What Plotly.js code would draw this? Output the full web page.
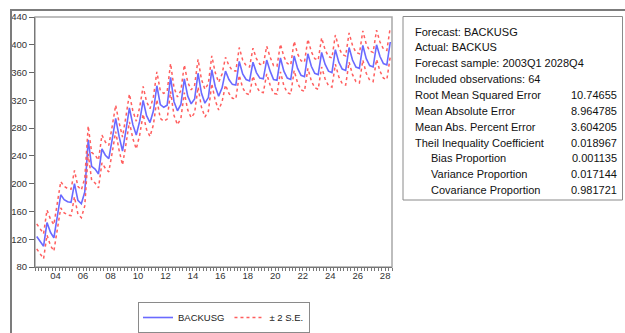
<!DOCTYPE html>
<html>
<head>
<meta charset="utf-8">
<script src="https://cdn.plot.ly/plotly-3.0.1.min.js"></script>
<style>
html,body{margin:0;padding:0;background:#fff;}
#chart{width:625px;height:333px;}
</style>
</head>
<body>
<div id="chart"></div>
<script>
// ---- data (quarterly, 2003Q1 .. 2028Q4) ----
const startYear = 2003;
const endYear = 2028;
const seriesName = "BACKUSG";
const bandName = "\u00b1 2 S.E.";
// forecast BACKUSG, one row per year: Q1, Q2, Q3, Q4
const forecast = [
  124, 116, 110, 144,   // 2003
  130, 122, 150, 184,   // 2004
  177, 174, 173, 200,   // 2005
  176, 171, 188, 263,   // 2006
  225, 221, 214, 250,   // 2007
  241, 236, 264, 294,   // 2008
  268, 247, 277, 309,   // 2009
  285, 270, 290, 320,   // 2010
  298, 288, 305, 341,   // 2011
  314, 310, 313, 353,   // 2012
  318, 305, 314, 351,   // 2013
  326, 315, 322, 359,   // 2014
  330, 316, 324, 364,   // 2015
  340, 326, 338, 362,   // 2016
  350, 343, 342, 376,   // 2017
  358, 350, 348, 375,   // 2018
  360, 352, 351, 378,   // 2019
  362, 350, 349, 381,   // 2020
  362, 352, 350, 384,   // 2021
  366, 356, 354, 387,   // 2022
  369, 359, 357, 389,   // 2023
  372, 362, 360, 393,   // 2024
  375, 365, 363, 396,   // 2025
  378, 368, 366, 399,   // 2026
  380, 370, 368, 400,   // 2027
  383, 373, 371, 404    // 2028
];
// two standard errors, read per year (2003 .. 2028)
const twoSE = [18, 19, 19, 20, 20, 19, 20, 20, 20, 20, 20, 20, 20,
               20, 20, 20, 20, 20, 21, 21, 21, 21, 21, 21, 21, 21];
const yTicks = [80, 120, 160, 200, 240, 280, 320, 360, 400, 440];
const xTickLabels = ["04", "06", "08", "10", "12", "14", "16", "18", "20", "22", "24", "26", "28"];
const statLabels = [
  ["Forecast: BACKUSG", ""],
  ["Actual: BACKUS", ""],
  ["Forecast sample: 2003Q1 2028Q4", ""],
  ["Included observations: 64", ""],
  ["Root Mean Squared Error", "10.74655"],
  ["Mean Absolute Error", "8.964785"],
  ["Mean Abs. Percent Error", "3.604205"],
  ["Theil Inequality Coefficient", "0.018967"],
  ["   Bias Proportion", "0.001135"],
  ["   Variance Proportion", "0.017144"],
  ["   Covariance Proportion", "0.981721"]
];

// ---- build ----
const x = [], upper = [], lower = [];
for (let i = 0; i < forecast.length; i++) {
  x.push(startYear + i / 4);
  const s = twoSE[Math.floor(i / 4)];
  upper.push(forecast[i] + s);
  lower.push(forecast[i] - s);
}
// year labels centred in each labelled year (between Q2 and Q3)
const tickVals = xTickLabels.map(t => 2000 + Number(t) + 0.375);

const blue = "#6a6aff";
const red = "#ff5e5e";
const traces = [
  {x: x, y: forecast, type: "scatter", mode: "lines", name: seriesName,
   line: {color: blue, width: 1.6}},
  {x: x, y: upper, type: "scatter", mode: "lines", name: bandName, legendgroup: "se",
   line: {color: red, width: 1.5, dash: "dot"}},
  {x: x, y: lower, type: "scatter", mode: "lines", name: bandName, legendgroup: "se",
   showlegend: false, line: {color: red, width: 1.5, dash: "dot"}}
];

// pixel -> paper helpers (plot area 35..392 x, 17..267 y)
const L = 35, R = 392, T = 17, B = 267;
const px = v => (v - L) / (R - L);
const py = v => (B - v) / (B - T);

const annotations = [];
statLabels.forEach((row, k) => {
  const yy = py(31.6 + k * 15.85);
  const indent = row[0].startsWith("   ");
  annotations.push({xref: "paper", yref: "paper", x: px(indent ? 429 : 413), y: yy,
    xanchor: "left", yanchor: "middle", showarrow: false, text: row[0].trim(),
    font: {family: "Liberation Sans, Arial, sans-serif", size: 11, color: "#111"}});
  if (row[1]) annotations.push({xref: "paper", yref: "paper", x: px(618.5), y: yy,
    xanchor: "right", yanchor: "middle", showarrow: false, text: row[1],
    font: {family: "Liberation Sans, Arial, sans-serif", size: 11, color: "#111"}});
});

const layout = {
  width: 625, height: 333,
  margin: {l: L, r: 625 - R, t: T, b: 333 - B, pad: 0, autoexpand: false},
  paper_bgcolor: "#fff", plot_bgcolor: "#fff",
  font: {family: "Liberation Sans, Arial, sans-serif", size: 9, color: "#333"},
  showlegend: true,
  legend: {orientation: "h", x: px(138), xanchor: "left", y: py(302), yanchor: "top",
    bordercolor: "#8a8a8a", borderwidth: 1, font: {size: 9.5, color: "#222"},
    itemwidth: 30, tracegroupgap: 0},
  xaxis: {range: [startYear - 0.125, endYear + 0.875], tickmode: "array",
    tickvals: tickVals, ticktext: xTickLabels,
    ticks: "", ticklen: 0,
    minor: {tickmode: "linear", tick0: startYear - 0.125, dtick: 0.25,
            ticks: "outside", ticklen: 3, tickcolor: "#777", tickwidth: 1, showgrid: false},
    showgrid: false, zeroline: false, showline: true, linecolor: "#777", linewidth: 1,
    tickfont: {size: 9.5, color: "#333"}, fixedrange: true},
  yaxis: {range: [80, 440], tickmode: "array", tickvals: yTicks,
    ticks: "outside", ticklen: 5, tickcolor: "#666", showgrid: false, zeroline: false,
    showline: true, linecolor: "#777", linewidth: 1,
    tickfont: {size: 9.5, color: "#333"}, fixedrange: true},
  shapes: [
    // plot frame (top / right)
    {type: "rect", xref: "paper", yref: "paper", x0: 0, x1: 1, y0: 0, y1: 1,
     line: {color: "#a8a8a8", width: 1.5}, layer: "below"},
    // outer window frame
    {type: "line", xref: "paper", yref: "paper", x0: px(10), x1: px(626), y0: py(10), y1: py(10),
     line: {color: "#7c7c7c", width: 2}},
    {type: "line", xref: "paper", yref: "paper", x0: px(11), x1: px(11), y0: py(10), y1: py(334),
     line: {color: "#7c7c7c", width: 2}},
    // statistics box
    {type: "rect", xref: "paper", yref: "paper", x0: px(403), x1: px(622.5), y0: py(200), y1: py(16.5),
     line: {color: "#8a8a8a", width: 1}}
  ],
  annotations: annotations
};

Plotly.newPlot("chart", traces, layout, {staticPlot: true, displayModeBar: false});
</script>
</body>
</html>
